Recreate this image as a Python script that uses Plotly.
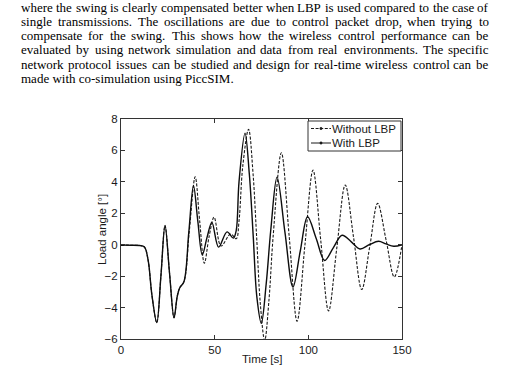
import plotly.graph_objects as go

# ---------------- data ----------------
time_with = [0, 5, 10, 12.5, 14.5, 16.5, 19.1, 21.3, 23.5, 25.9, 28.3, 30.0, 31.3, 33.6,
             36.2, 38.7, 41.0, 43.4, 46.0, 48.5, 52.1, 56.6, 60.0, 61.5, 63.0, 66.2,
             68.5, 70.6, 72.5, 74.9, 77.5, 80.0, 83.3, 87.5, 91.8, 95.7, 99.6, 104.2,
             108.7, 113.3, 118.0, 122.8, 127.6, 132.5, 137.5, 141.5, 145.6, 150.0]
angle_with = [-0.03, -0.03, -0.05, -0.15, -1.0, -3.2, -4.95, -2.0, 1.22, -1.8, -4.65, -3.3, -2.75, -2.35,
              0.8, 3.75, 1.5, -0.65, 0.5, 1.42, -0.15, 0.82, 0.42, 0.9, 4.0, 7.1,
              4.5, 0.5, -3.3, -5.0, -2.5, 1.0, 4.3, 0.8, -2.7, -0.4, 1.78, 0.4,
              -1.0, -0.2, 0.6, 0.2, -0.27, 0.0, 0.22, 0.05, -0.1, 0.0]

time_without = [0, 5, 10, 12.5, 14.5, 16.5, 19.1, 21.3, 23.5, 25.9, 28.3, 30.0, 31.3, 33.6,
                36.4, 39.6, 42.0, 44.5, 47.0, 49.7, 53.4, 58.5, 61.5, 63.0, 65.0, 68.1,
                70.5, 72.4, 74.4, 76.7, 79.0, 81.2, 85.6, 89.8, 94.0, 98.2, 102.5, 106.6,
                110.8, 115.2, 119.7, 124.1, 128.5, 132.8, 137.0, 141.5, 145.9, 150.0]
angle_without = [-0.03, -0.03, -0.05, -0.15, -1.0, -3.2, -4.95, -2.0, 1.22, -1.8, -4.65, -3.3, -2.75, -2.35,
                 0.8, 4.32, 1.5, -1.18, 0.5, 1.75, -0.08, 0.68, 0.38, 1.5, 5.0, 7.35,
                 4.5, 0.5, -3.8, -6.1, -3.5, 0.5, 5.85, 0.5, -4.87, 0.0, 4.75, 0.3,
                 -4.22, -0.2, 3.8, 0.5, -2.85, -0.1, 2.63, 0.3, -2.05, 0.0]

series_names = ["Without LBP", "With LBP"]
x_ticks = [0, 50, 100, 150]
y_ticks = [-6, -4, -2, 0, 2, 4, 6, 8]
x_title = "Time [s]"
y_title = "Load angle [°]"

paragraph_lines = [
    "where the swing is clearly compensated better when LBP is used compared to the case of",
    "single transmissions. The oscillations are due to control packet drop, when trying to",
    "compensate for the swing. This shows how the wireless control performance can be",
    "evaluated by using network simulation and data from real environments. The specific",
    "network protocol issues can be studied and design for real-time wireless control can be",
    "made with co-simulation using PiccSIM.",
]

# ---------------- layout geometry ----------------
FIG_W, FIG_H = 516, 367
L, R, T, B = 121, 114, 119, 28
PW, PH = FIG_W - L - R, FIG_H - T - B


def px(xpix):
    return (xpix - L) / PW


def py(ypix):
    return 1 - (ypix - T) / PH


SANS = dict(family="Liberation Sans, Arial, sans-serif", size=11.5, color="#1a1a1a")

fig = go.Figure()
fig.add_trace(go.Scatter(x=time_without, y=angle_without, mode="lines", name=series_names[0],
                         line=dict(color="#1a1a1a", width=1.1, dash="3px,1.6px", shape="spline", smoothing=1.0),
                         showlegend=False))
fig.add_trace(go.Scatter(x=time_with, y=angle_with, mode="lines", name=series_names[1],
                         line=dict(color="#0d0d0d", width=1.4, shape="spline", smoothing=1.0),
                         showlegend=False))

axis_common = dict(showgrid=False, zeroline=False, showline=True, linecolor="#333333", linewidth=1,
                   mirror="ticks", ticks="inside", ticklen=4, tickcolor="#333333", tickfont=SANS)
fig.update_xaxes(range=[0, 150], tickvals=x_ticks, **axis_common)
fig.update_yaxes(range=[-6, 8], tickvals=y_ticks, **axis_common)

shapes = []
annotations = []

# axis titles
annotations.append(dict(text=x_title, xref="paper", yref="paper", x=px(262), y=py(358.5), xanchor="center",
                        yanchor="middle", showarrow=False, borderpad=0, borderwidth=0, font=SANS))
annotations.append(dict(text=y_title, xref="paper", yref="paper", x=px(102), y=py(230), xanchor="center",
                        yanchor="middle", textangle=-90, showarrow=False, borderpad=0, borderwidth=0, font=SANS))

# ---------------- manual legend ----------------
lx0, lx1, ly0, ly1 = 308, 401, 121, 151
shapes.append(dict(type="rect", xref="paper", yref="paper", x0=px(lx0), x1=px(lx1), y0=py(ly1), y1=py(ly0),
                   line=dict(color="#333333", width=1), fillcolor="white", layer="above"))
entry_y = [128.5, 143.0]
entry_dash = ["3px,1.6px", "solid"]
for name, ey, dsh in zip(series_names, entry_y, entry_dash):
    shapes.append(dict(type="line", xref="paper", yref="paper", x0=px(311), x1=px(331), y0=py(ey), y1=py(ey),
                       line=dict(color="#1a1a1a", width=1, dash=dsh), layer="above"))
    shapes.append(dict(type="circle", xref="paper", yref="paper", x0=px(319.8), x1=px(322.2),
                       y0=py(ey + 1.2), y1=py(ey - 1.2), line=dict(color="#1a1a1a", width=0.5),
                       fillcolor="#1a1a1a", layer="above"))
    annotations.append(dict(text=name, xref="paper", yref="paper", x=px(332), y=py(ey), xanchor="left",
                            yanchor="middle", showarrow=False, borderpad=0, borderwidth=0, font=SANS))

# ---------------- justified paragraph ----------------
TW = {'a': 444, 'b': 500, 'c': 444, 'd': 500, 'e': 444, 'f': 333, 'g': 500, 'h': 500, 'i': 278, 'j': 278,
      'k': 500, 'l': 278, 'm': 778, 'n': 500, 'o': 500, 'p': 500, 'q': 500, 'r': 333, 's': 389, 't': 278,
      'u': 500, 'v': 500, 'w': 722, 'x': 500, 'y': 500, 'z': 444, 'A': 722, 'B': 667, 'C': 667, 'D': 722,
      'E': 611, 'F': 556, 'G': 722, 'H': 722, 'I': 333, 'J': 389, 'K': 722, 'L': 611, 'M': 889, 'N': 722,
      'O': 722, 'P': 556, 'Q': 722, 'R': 667, 'S': 556, 'T': 611, 'U': 722, 'V': 722, 'W': 944, 'X': 722,
      'Y': 722, 'Z': 611, '.': 250, ',': 250, '-': 333, ' ': 250}
FS = 13
TEXT_FONT = dict(family="Liberation Serif, Times New Roman, serif", size=FS, color="#000000")
left_px, right_px = 21, 489
line_y = [7.0, 21.3, 35.6, 49.9, 64.2, 78.5]


def wwidth(w):
    return sum(TW.get(c, 500) for c in w) / 1000 * FS


def word_ann(w, xpix, ypix, anchor):
    return dict(text=w, xref="paper", yref="paper", x=px(xpix), y=py(ypix), xanchor=anchor,
                yanchor="middle", showarrow=False, borderpad=0, borderwidth=0, font=TEXT_FONT)


for i, (txt, ly) in enumerate(zip(paragraph_lines, line_y)):
    if i == len(paragraph_lines) - 1:
        annotations.append(word_ann(txt, left_px, ly, "left"))
        continue
    words = txt.split(" ")
    widths = [wwidth(w) for w in words]
    n = len(words)
    gap = (right_px - left_px - sum(widths)) / (n - 1)
    half = n // 2
    xcur = left_px
    for j in range(half):
        annotations.append(word_ann(words[j], xcur, ly, "left"))
        xcur += widths[j] + gap
    xcur = right_px
    for j in range(n - 1, half - 1, -1):
        annotations.append(word_ann(words[j], xcur, ly, "right"))
        xcur -= widths[j] + gap

fig.update_layout(width=FIG_W, height=FIG_H, margin=dict(l=L, r=R, t=T, b=B, autoexpand=False),
                  paper_bgcolor="white", plot_bgcolor="white", showlegend=False,
                  shapes=shapes, annotations=annotations)

fig.write_html("out.html", config={"displayModeBar": False},
               post_script="document.body.style.margin='0px';")
